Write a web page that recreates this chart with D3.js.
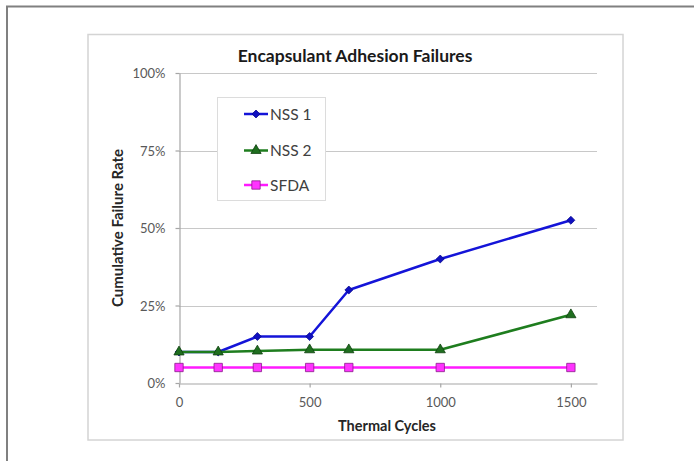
<!DOCTYPE html>
<html>
<head>
<meta charset="utf-8">
<script src="https://cdn.jsdelivr.net/npm/d3@7"></script>
<style>
  html, body { margin: 0; padding: 0; background: #fff; }
  svg { display: block; font-family: Lato, "Open Sans", sans-serif; }
</style>
</head>
<body>
<svg id="chart" width="694" height="461"></svg>
<script>
// Thermal cycle counts at which failures were inspected
const cycles = [0, 150, 300, 500, 650, 1000, 1500];
// Cumulative failure rate per encapsulant (fraction)
const nss1 = [0.10, 0.10, 0.15, 0.15, 0.30, 0.40, 0.525];
const nss2 = [0.10, 0.10, 0.103, 0.107, 0.107, 0.107, 0.22];
const sfda = [0.05, 0.05, 0.05, 0.05, 0.05, 0.05, 0.05];
const seriesNames = ["NSS 1", "NSS 2", "SFDA"];
const xTicks = [0, 500, 1000, 1500];
const yTicks = [0, 0.25, 0.5, 0.75, 1.0];

const series = [
  { name: seriesNames[0], values: nss1, line: "#1414d8", fill: "#1010c0", stroke: "#0a0a90", symbol: d3.symbolDiamond2, size: 40 },
  { name: seriesNames[1], values: nss2, line: "#1e7d1e", fill: "#1f6e1f", stroke: "#0f400f", symbol: d3.symbolTriangle, size: 45 },
  { name: seriesNames[2], values: sfda, line: "#ff1aff", fill: "#ff33ff", stroke: "#8a1a8a", symbol: d3.symbolSquare, size: 70 }
];

const svg = d3.select("#chart");

// outer page frame
svg.append("line").attr("x1", 6).attr("x2", 694).attr("y1", 6.5).attr("y2", 6.5)
  .attr("stroke", "#808080").attr("stroke-width", 2);
svg.append("line").attr("x1", 7).attr("x2", 7).attr("y1", 6).attr("y2", 461)
  .attr("stroke", "#808080").attr("stroke-width", 2);

// chart area border
svg.append("rect").attr("x", 88).attr("y", 34.5).attr("width", 535).attr("height", 405.5)
  .attr("fill", "#fff").attr("stroke", "#d4d4d4").attr("stroke-width", 1.5);

const plot = { left: 179, right: 597, top: 73, bottom: 383 };

const x = d3.scaleLinear().domain([0, 1600]).range([plot.left, plot.right]);
const y = d3.scaleLinear().domain([0, 1]).range([plot.bottom, plot.top]);

// horizontal gridlines
svg.append("g")
  .selectAll("line")
  .data(yTicks.filter(t => t > 0))
  .join("line")
  .attr("x1", plot.left).attr("x2", plot.right)
  .attr("y1", d => Math.round(y(d)) + 0.5).attr("y2", d => Math.round(y(d)) + 0.5)
  .attr("stroke", "#c8c8c8").attr("stroke-width", 1.2);

// y axis
const yAxis = svg.append("g")
  .attr("transform", `translate(${plot.left + 0.5},0)`)
  .call(d3.axisLeft(y).tickValues(yTicks).tickFormat(d3.format(".0%"))
    .tickSize(4).tickSizeOuter(0).tickPadding(10));
// x axis
const xAxis = svg.append("g")
  .attr("transform", `translate(0,${plot.bottom + 0.5})`)
  .call(d3.axisBottom(x).tickValues(xTicks).tickFormat(d3.format("d"))
    .tickSize(4).tickSizeOuter(0).tickPadding(10));

[yAxis, xAxis].forEach(g => {
  g.select(".domain").attr("stroke", "#a6a6a6").attr("stroke-width", 1.2);
  g.selectAll(".tick line").attr("stroke", "#a6a6a6").attr("stroke-width", 1.2);
  g.selectAll(".tick text").attr("fill", "#595959").style("font-size", "13px")
    .style("font-family", "Lato, 'Open Sans', sans-serif");
});
yAxis.selectAll(".tick text").attr("dy", "0.35em");

// titles
svg.append("text").attr("x", 355).attr("y", 62).attr("text-anchor", "middle")
  .style("font-size", "17.5px").style("font-weight", "bold").attr("fill", "#1a1a1a")
  .text("Encapsulant Adhesion Failures");
svg.append("text").attr("x", 387).attr("y", 431).attr("text-anchor", "middle")
  .style("font-size", "14.5px").style("font-weight", "bold").attr("fill", "#262626")
  .text("Thermal Cycles");
svg.append("text")
  .attr("transform", `translate(123,${(plot.top + plot.bottom) / 2}) rotate(-90)`)
  .attr("text-anchor", "middle")
  .style("font-size", "15px").style("font-weight", "bold").attr("fill", "#262626")
  .text("Cumulative Failure Rate");

// series lines and markers
const line = d3.line().x((d, i) => x(cycles[i])).y(d => y(d));
series.forEach(s => {
  const g = svg.append("g");
  g.append("path").datum(s.values).attr("d", line)
    .attr("fill", "none").attr("stroke", s.line).attr("stroke-width", 2.5)
    .attr("stroke-linejoin", "round");
  g.selectAll("path.m").data(s.values).join("path").attr("class", "m")
    .attr("transform", (d, i) => `translate(${x(cycles[i])},${y(d)})`)
    .attr("d", d3.symbol().type(s.symbol).size(s.size))
    .attr("fill", s.fill).attr("stroke", s.stroke).attr("stroke-width", 0.8);
});

// legend
const legend = svg.append("g");
legend.append("rect").attr("x", 217.5).attr("y", 97.5).attr("width", 108).attr("height", 103)
  .attr("fill", "#fff").attr("stroke", "#dcdcdc").attr("stroke-width", 1);
const legendY = [114, 150.5, 185];
series.forEach((s, i) => {
  const ly = legendY[i];
  legend.append("line").attr("x1", 244).attr("x2", 268).attr("y1", ly).attr("y2", ly)
    .attr("stroke", s.line).attr("stroke-width", 2.5);
  legend.append("path").attr("transform", `translate(256,${ly})`)
    .attr("d", d3.symbol().type(s.symbol).size(s.size))
    .attr("fill", s.fill).attr("stroke", s.stroke).attr("stroke-width", 0.8);
  legend.append("text").attr("x", 270).attr("y", ly).attr("dy", "0.36em")
    .style("font-size", "15.5px").attr("fill", "#404040").text(s.name);
});
</script>
</body>
</html>
